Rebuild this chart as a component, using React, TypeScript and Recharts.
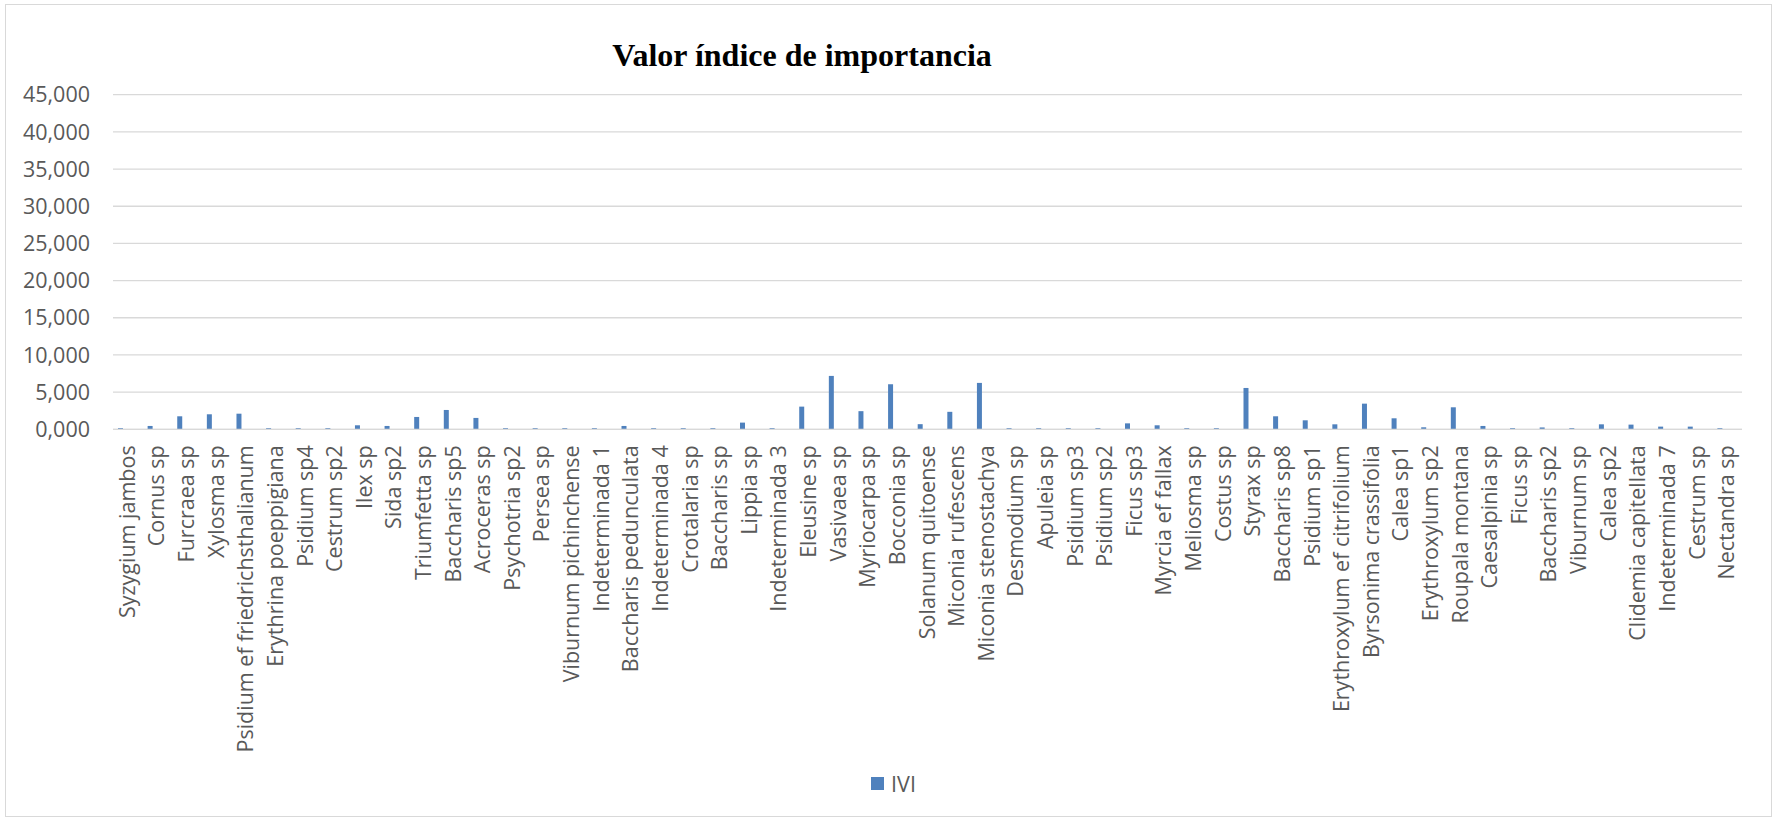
import React from 'react';
import { BarChart, Bar, XAxis, YAxis, CartesianGrid, Legend } from 'recharts';

const categories: string[] = [
  'Syzygium jambos', 'Cornus sp', 'Furcraea sp', 'Xylosma sp', 'Psidium ef friedrichsthalianum',
  'Erythrina poeppigiana', 'Psidium sp4', 'Cestrum sp2', 'Ilex sp', 'Sida sp2',
  'Triumfetta sp', 'Baccharis sp5', 'Acroceras sp', 'Psychotria sp2', 'Persea sp',
  'Viburnum pichinchense', 'Indeterminada 1', 'Baccharis pedunculata', 'Indeterminada 4', 'Crotalaria sp',
  'Baccharis sp', 'Lippia sp', 'Indeterminada 3', 'Eleusine sp', 'Vasivaea sp',
  'Myriocarpa sp', 'Bocconia sp', 'Solanum quitoense', 'Miconia rufescens', 'Miconia stenostachya',
  'Desmodium sp', 'Apuleia sp', 'Psidium sp3', 'Psidium sp2', 'Ficus sp3',
  'Myrcia ef fallax', 'Meliosma sp', 'Costus sp', 'Styrax sp', 'Baccharis sp8',
  'Psidium sp1', 'Erythroxylum ef citrifolium', 'Byrsonima crassifolia', 'Calea sp1', 'Erythroxylum sp2',
  'Roupala montana', 'Caesalpinia sp', 'Ficus sp', 'Baccharis sp2', 'Viburnum sp',
  'Calea sp2', 'Clidemia capitellata', 'Indeterminada 7', 'Cestrum sp', 'Nectandra sp',
];

const iviValues: number[] = [
  0.15, 0.45, 1.75, 2.02, 2.1,
  0.15, 0.15, 0.15, 0.54, 0.45,
  1.66, 2.6, 1.53, 0.15, 0.15,
  0.15, 0.15, 0.45, 0.15, 0.15,
  0.15, 0.9, 0.15, 3.05, 7.18,
  2.44, 6.06, 0.69, 2.35, 6.24,
  0.15, 0.15, 0.15, 0.15, 0.8,
  0.54, 0.15, 0.15, 5.56, 1.75,
  1.21, 0.67, 3.45, 1.48, 0.27,
  2.96, 0.45, 0.15, 0.25, 0.15,
  0.67, 0.63, 0.36, 0.36, 0.15,
];

const yTicks: number[] = [0, 5, 10, 15, 20, 25, 30, 35, 40, 45];

const data = categories.map((name, i) => ({ name, IVI: iviValues[i], blank: null as number | null }));

const FONT = '"Open Sans", sans-serif';
const TEXT = '#595959';
const BLUE = '#4f81bd';
const GRID = '#d9d9d9';
const PLOT_BOTTOM = 429.3;

const fmt = (v: number) => v.toFixed(3).replace('.', ',');

const XTick = (props: any) => {
  const { x, payload } = props;
  return (
    <g transform={`translate(${x},${PLOT_BOTTOM + 16})`}>
      <text
        x={0}
        y={0}
        dy={7}
        transform="rotate(-90)"
        textAnchor="end"
        fill={TEXT}
        fontSize={21.5}
        fontFamily={FONT}
      >
        {payload.value}
      </text>
    </g>
  );
};

const LegendContent = () => (
  <div
    style={{
      display: 'flex',
      justifyContent: 'center',
      alignItems: 'center',
      paddingLeft: 10,
      fontFamily: FONT,
      fontSize: 21.5,
      color: TEXT,
      height: 30,
    }}
  >
    <span style={{ display: 'inline-block', width: 13, height: 13, background: BLUE, marginRight: 7 }} />
    <span>IVI</span>
  </div>
);

export default function App() {
  return (
    <div style={{ position: 'absolute', left: 0, top: 0, width: 1777, height: 820, background: '#fff' }}>
      <div
        style={{
          position: 'absolute',
          left: 5,
          top: 4,
          width: 1767,
          height: 813,
          border: '1.5px solid #d9d9d9',
          boxSizing: 'border-box',
        }}
      />
      <div
        style={{
          position: 'absolute',
          left: 0,
          top: 39,
          width: 1604,
          textAlign: 'center',
          fontFamily: '"Liberation Serif", "Times New Roman", serif',
          fontWeight: 'bold',
          fontSize: 32,
          lineHeight: '32px',
          color: '#000',
        }}
      >
        Valor índice de importancia
      </div>
      <div style={{ position: 'absolute', left: 0, top: 0 }}>
        <BarChart
          width={1777}
          height={820}
          data={data}
          margin={{ top: 94.7, right: 35, bottom: 60.7, left: 0 }}
          barGap={9}
          barSize={5}
        >
          <CartesianGrid vertical={false} stroke={GRID} strokeWidth={1.3} />
          <XAxis
            dataKey="name"
            interval={0}
            height={330}
            tickLine={false}
            axisLine={{ stroke: GRID, strokeWidth: 1.3 }}
            tick={<XTick />}
          />
          <YAxis
            width={113}
            domain={[0, 45]}
            ticks={yTicks}
            tickFormatter={fmt}
            axisLine={false}
            tickLine={false}
            tickSize={0}
            tickMargin={23}
            tick={{ fill: TEXT, fontSize: 21.5, fontFamily: FONT }}
            interval={0}
          />
          <Bar dataKey="IVI" fill={BLUE} isAnimationActive={false} />
          <Bar dataKey="blank" fill="#c0504d" legendType="none" isAnimationActive={false} />
          <Legend
            layout="horizontal"
            verticalAlign="middle"
            align="center"
            content={<LegendContent />}
            wrapperStyle={{ position: 'absolute', left: 0, top: 768, width: 1777, height: 30 }}
          />
        </BarChart>
      </div>
    </div>
  );
}
